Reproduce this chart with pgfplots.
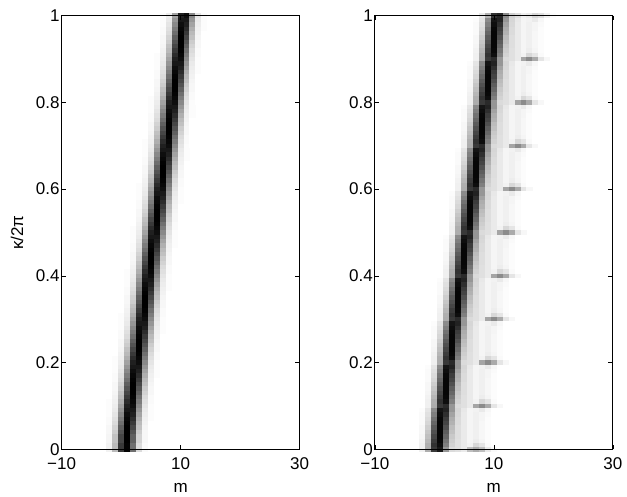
\documentclass[border=0pt]{standalone}
\usepackage{fontspec}
\setmainfont{Liberation Sans}
\usepackage{pgfplots}
\usepackage{pgfplotstable}
\pgfplotsset{compat=1.18}
\pgfdeclareplotmark{cell}{\pgfpathrectangle{\pgfpoint{-3.03pt}{-2.22pt}}{\pgfpoint{6.06pt}{4.44pt}}\pgfusepathqfill}
\pgfplotstableread{
k s c0 c1 c2 c3 c4 c5 c6 c7 c8
0.00 -3 0 5 27 77 98 56 14 2 0
0.01 -3 0 5 27 77 98 56 14 2 0
0.02 -3 0 4 24 72 100 62 17 3 0
0.03 -3 0 4 24 72 100 62 17 3 0
0.04 -3 0 3 20 67 100 67 20 3 0
0.05 -3 0 3 17 62 100 72 24 4 0
0.06 -3 0 2 14 56 98 77 27 5 0
0.07 -3 0 2 12 51 96 82 31 6 1
0.08 -3 0 1 10 46 94 87 36 7 1
0.09 -3 0 1 8 41 90 90 41 8 1
0.10 -2 1 7 36 87 94 46 10 1 0
0.11 -2 1 6 31 82 96 51 12 2 0
0.12 -2 0 5 27 77 98 56 14 2 0
0.13 -2 0 4 24 72 100 62 17 3 0
0.14 -2 0 3 20 67 100 67 20 3 0
0.15 -2 0 3 17 62 100 72 24 4 0
0.16 -2 0 2 14 56 98 77 27 5 0
0.17 -2 0 2 12 51 96 82 31 6 1
0.18 -2 0 1 10 46 94 87 36 7 1
0.19 -2 0 1 8 41 90 90 41 8 1
0.20 -1 1 7 36 87 94 46 10 1 0
0.21 -1 1 6 31 82 96 51 12 2 0
0.22 -1 0 5 27 77 98 56 14 2 0
0.23 -1 0 4 24 72 100 62 17 3 0
0.24 -1 0 3 20 67 100 67 20 3 0
0.25 -1 0 3 17 62 100 72 24 4 0
0.26 -1 0 2 14 56 98 77 27 5 0
0.27 -1 0 2 12 51 96 82 31 6 1
0.28 -1 0 1 10 46 94 87 36 7 1
0.29 -1 0 1 8 41 90 90 41 8 1
0.30 0 1 7 36 87 94 46 10 1 0
0.31 0 1 6 31 82 96 51 12 2 0
0.32 0 0 5 27 77 98 56 14 2 0
0.33 0 0 4 24 72 100 62 17 3 0
0.34 0 0 3 20 67 100 67 20 3 0
0.35 0 0 3 17 62 100 72 24 4 0
0.36 0 0 2 14 56 98 77 27 5 0
0.37 0 0 2 12 51 96 82 31 6 1
0.38 0 0 1 10 46 94 87 36 7 1
0.39 0 0 1 8 41 90 90 41 8 1
0.40 1 1 7 36 87 94 46 10 1 0
0.41 1 1 6 31 82 96 51 12 2 0
0.42 1 0 5 27 77 98 56 14 2 0
0.43 1 0 4 24 72 100 62 17 3 0
0.44 1 0 3 20 67 100 67 20 3 0
0.45 1 0 3 17 62 100 72 24 4 0
0.46 1 0 2 14 56 98 77 27 5 0
0.47 1 0 2 12 51 96 82 31 6 1
0.48 1 0 1 10 46 94 87 36 7 1
0.49 1 0 1 8 41 90 90 41 8 1
0.50 2 1 7 36 87 94 46 10 1 0
0.51 2 1 6 31 82 96 51 12 2 0
0.52 2 0 5 27 77 98 56 14 2 0
0.53 2 0 4 24 72 100 62 17 3 0
0.54 2 0 3 20 67 100 67 20 3 0
0.55 2 0 3 17 62 100 72 24 4 0
0.56 2 0 2 14 56 98 77 27 5 0
0.57 2 0 2 12 51 96 82 31 6 1
0.58 2 0 1 10 46 94 87 36 7 1
0.59 2 0 1 8 41 90 90 41 8 1
0.60 3 1 7 36 87 94 46 10 1 0
0.61 3 1 6 31 82 96 51 12 2 0
0.62 3 0 5 27 77 98 56 14 2 0
0.63 3 0 4 24 72 100 62 17 3 0
0.64 3 0 3 20 67 100 67 20 3 0
0.65 3 0 3 17 62 100 72 24 4 0
0.66 3 0 2 14 56 98 77 27 5 0
0.67 3 0 2 12 51 96 82 31 6 1
0.68 3 0 1 10 46 94 87 36 7 1
0.69 3 0 1 8 41 90 90 41 8 1
0.70 4 1 7 36 87 94 46 10 1 0
0.71 4 1 6 31 82 96 51 12 2 0
0.72 4 0 5 27 77 98 56 14 2 0
0.73 4 0 4 24 72 100 62 17 3 0
0.74 4 0 3 20 67 100 67 20 3 0
0.75 4 0 3 17 62 100 72 24 4 0
0.76 4 0 2 14 56 98 77 27 5 0
0.77 4 0 2 12 51 96 82 31 6 1
0.78 4 0 1 10 46 94 87 36 7 1
0.79 4 0 1 8 41 90 90 41 8 1
0.80 5 1 7 36 87 94 46 10 1 0
0.81 5 1 6 31 82 96 51 12 2 0
0.82 5 0 5 27 77 98 56 14 2 0
0.83 5 0 4 24 72 100 62 17 3 0
0.84 5 0 3 20 67 100 67 20 3 0
0.85 5 0 3 17 62 100 72 24 4 0
0.86 5 0 2 14 56 98 77 27 5 0
0.87 5 0 2 12 51 96 82 31 6 1
0.88 5 0 1 10 46 94 87 36 7 1
0.89 5 0 1 8 41 90 90 41 8 1
0.90 6 1 7 36 87 94 46 10 1 0
0.91 6 1 6 31 82 96 51 12 2 0
0.92 6 0 5 27 77 98 56 14 2 0
0.93 6 0 4 24 72 100 62 17 3 0
0.94 6 0 3 20 67 100 67 20 3 0
0.95 6 0 3 17 62 100 72 24 4 0
0.96 6 0 2 14 56 98 77 27 5 0
0.97 6 0 2 12 51 96 82 31 6 1
0.98 6 0 1 10 46 94 87 36 7 1
0.99 6 0 1 8 41 90 90 41 8 1
1.00 7 1 7 36 87 94 46 10 1 0
}\lefttab
\pgfplotstableread{
k s c0 c1 c2 c3 c4 c5 c6 c7 c8 c9 c10 c11 c12 c13
0.00 -3 0 6 32 77 90 41 14 12 8 25 32 25 8 2
0.01 -3 0 6 31 80 94 50 17 12 8 5 15 10 2 0
0.02 -3 0 5 28 76 96 54 19 12 8 4 7 4 1 0
0.03 -3 0 4 25 72 97 59 21 13 8 4 6 3 1 0
0.04 -3 0 3 22 68 97 63 24 13 8 4 6 3 1 0
0.05 -3 0 3 19 64 97 68 26 13 8 4 6 3 1 0
0.06 -3 0 2 16 59 97 73 30 14 8 4 6 3 1 0
0.07 -3 0 2 14 55 96 76 32 14 8 4 6 4 1 0
0.08 -3 0 2 12 50 94 81 36 15 8 4 6 4 2 0
0.09 -3 0 1 10 45 91 86 41 16 9 4 5 8 3 0
0.10 -2 0 6 32 77 83 41 14 12 8 35 45 33 10 3
0.11 -2 0 6 31 80 94 50 17 12 8 5 15 10 2 0
0.12 -2 0 5 28 76 96 54 19 12 8 4 7 4 1 0
0.13 -2 0 4 25 72 97 59 21 13 8 4 6 3 1 0
0.14 -2 0 3 22 68 97 63 24 13 8 4 6 3 1 0
0.15 -2 0 3 19 64 97 68 26 13 8 4 6 3 1 0
0.16 -2 0 2 16 59 97 73 30 14 8 4 6 3 1 0
0.17 -2 0 2 14 55 96 76 32 14 8 4 6 4 1 0
0.18 -2 0 2 12 50 94 81 36 15 8 4 6 4 2 0
0.19 -2 0 1 10 45 91 86 41 16 9 4 5 8 3 0
0.20 -1 0 6 32 77 83 41 14 12 8 35 45 33 10 3
0.21 -1 0 6 31 80 94 50 17 12 8 5 15 10 2 0
0.22 -1 0 5 28 76 96 54 19 12 8 4 7 4 1 0
0.23 -1 0 4 25 72 97 59 21 13 8 4 6 3 1 0
0.24 -1 0 3 22 68 97 63 24 13 8 4 6 3 1 0
0.25 -1 0 3 19 64 97 68 26 13 8 4 6 3 1 0
0.26 -1 0 2 16 59 97 73 30 14 8 4 6 3 1 0
0.27 -1 0 2 14 55 96 76 32 14 8 4 6 4 1 0
0.28 -1 0 2 12 50 94 81 36 15 8 4 6 4 2 0
0.29 -1 0 1 10 45 91 86 41 16 9 4 5 8 3 0
0.30 0 0 6 32 77 83 41 14 12 8 35 45 33 10 3
0.31 0 0 6 31 80 94 50 17 12 8 5 15 10 2 0
0.32 0 0 5 28 76 96 54 19 12 8 4 7 4 1 0
0.33 0 0 4 25 72 97 59 21 13 8 4 6 3 1 0
0.34 0 0 3 22 68 97 63 24 13 8 4 6 3 1 0
0.35 0 0 3 19 64 97 68 26 13 8 4 6 3 1 0
0.36 0 0 2 16 59 97 73 30 14 8 4 6 3 1 0
0.37 0 0 2 14 55 96 76 32 14 8 4 6 4 1 0
0.38 0 0 2 12 50 94 81 36 15 8 4 6 4 2 0
0.39 0 0 1 10 45 91 86 41 16 9 4 5 8 3 0
0.40 1 0 6 32 77 83 41 14 12 8 35 45 33 10 3
0.41 1 0 6 31 80 94 50 17 12 8 5 15 10 2 0
0.42 1 0 5 28 76 96 54 19 12 8 4 7 4 1 0
0.43 1 0 4 25 72 97 59 21 13 8 4 6 3 1 0
0.44 1 0 3 22 68 97 63 24 13 8 4 6 3 1 0
0.45 1 0 3 19 64 97 68 26 13 8 4 6 3 1 0
0.46 1 0 2 16 59 97 73 30 14 8 4 6 3 1 0
0.47 1 0 2 14 55 96 76 32 14 8 4 6 4 1 0
0.48 1 0 2 12 50 94 81 36 15 8 4 6 4 2 0
0.49 1 0 1 10 45 91 86 41 16 9 4 5 8 3 0
0.50 2 0 6 32 77 83 41 14 12 8 35 45 33 10 3
0.51 2 0 6 31 80 94 50 17 12 8 5 15 10 2 0
0.52 2 0 5 28 76 96 54 19 12 8 4 7 4 1 0
0.53 2 0 4 25 72 97 59 21 13 8 4 6 3 1 0
0.54 2 0 3 22 68 97 63 24 13 8 4 6 3 1 0
0.55 2 0 3 19 64 97 68 26 13 8 4 6 3 1 0
0.56 2 0 2 16 59 97 73 30 14 8 4 6 3 1 0
0.57 2 0 2 14 55 96 76 32 14 8 4 6 4 1 0
0.58 2 0 2 12 50 94 81 36 15 8 4 6 4 2 0
0.59 2 0 1 10 45 91 86 41 16 9 4 5 8 3 0
0.60 3 0 6 32 77 83 41 14 12 8 35 45 33 10 3
0.61 3 0 6 31 80 94 50 17 12 8 5 15 10 2 0
0.62 3 0 5 28 76 96 54 19 12 8 4 7 4 1 0
0.63 3 0 4 25 72 97 59 21 13 8 4 6 3 1 0
0.64 3 0 3 22 68 97 63 24 13 8 4 6 3 1 0
0.65 3 0 3 19 64 97 68 26 13 8 4 6 3 1 0
0.66 3 0 2 16 59 97 73 30 14 8 4 6 3 1 0
0.67 3 0 2 14 55 96 76 32 14 8 4 6 4 1 0
0.68 3 0 2 12 50 94 81 36 15 8 4 6 4 2 0
0.69 3 0 1 10 45 91 86 41 16 9 4 5 8 3 0
0.70 4 0 6 32 77 83 41 14 12 8 35 45 33 10 3
0.71 4 0 6 31 80 94 50 17 12 8 5 15 10 2 0
0.72 4 0 5 28 76 96 54 19 12 8 4 7 4 1 0
0.73 4 0 4 25 72 97 59 21 13 8 4 6 3 1 0
0.74 4 0 3 22 68 97 63 24 13 8 4 6 3 1 0
0.75 4 0 3 19 64 97 68 26 13 8 4 6 3 1 0
0.76 4 0 2 16 59 97 73 30 14 8 4 6 3 1 0
0.77 4 0 2 14 55 96 76 32 14 8 4 6 4 1 0
0.78 4 0 2 12 50 94 81 36 15 8 4 6 4 2 0
0.79 4 0 1 10 45 91 86 41 16 9 4 5 8 3 0
0.80 5 0 6 32 77 83 41 14 12 8 35 45 33 10 3
0.81 5 0 6 31 80 94 50 17 12 8 5 15 10 2 0
0.82 5 0 5 28 76 96 54 19 12 8 4 7 4 1 0
0.83 5 0 4 25 72 97 59 21 13 8 4 6 3 1 0
0.84 5 0 3 22 68 97 63 24 13 8 4 6 3 1 0
0.85 5 0 3 19 64 97 68 26 13 8 4 6 3 1 0
0.86 5 0 2 16 59 97 73 30 14 8 4 6 3 1 0
0.87 5 0 2 14 55 96 76 32 14 8 4 6 4 1 0
0.88 5 0 2 12 50 94 81 36 15 8 4 6 4 2 0
0.89 5 0 1 10 45 91 86 41 16 9 4 5 8 3 0
0.90 6 0 6 32 77 83 41 14 12 8 35 45 33 10 3
0.91 6 0 6 31 80 94 50 17 12 8 5 15 10 2 0
0.92 6 0 5 28 76 96 54 19 12 8 4 7 4 1 0
0.93 6 0 4 25 72 97 59 21 13 8 4 6 3 1 0
0.94 6 0 3 22 68 97 63 24 13 8 4 6 3 1 0
0.95 6 0 3 19 64 97 68 26 13 8 4 6 3 1 0
0.96 6 0 2 16 59 97 73 30 14 8 4 6 3 1 0
0.97 6 0 2 14 55 96 76 32 14 8 4 6 4 1 0
0.98 6 0 2 12 50 94 81 36 15 8 4 6 4 2 0
0.99 6 0 1 10 45 91 86 41 16 9 4 5 8 3 0
1.00 7 0 8 30 80 85 45 18 13 6 8 15 12 5 1
}\righttab
\pgfplotsset{
  datapanel/.style={
    scale only axis, width=238pt, height=433.6pt,
    xmin=-10, xmax=30, ymin=0, ymax=1,
    hide axis,
    colormap={bw}{gray(0cm)=(1); gray(1cm)=(0)},
    point meta min=0, point meta max=100,
    scatter/use mapped color={draw=none,fill=mapped color},
  },
  panel/.style={
    scale only axis, width=238pt, height=433.6pt,
    xmin=-10, xmax=30, ymin=0, ymax=1,
    xtick={-10,10,30}, xticklabels={−10,10,30},
    ytick={0,0.2,0.4,0.6,0.8,1}, yticklabels={0,0.2,0.4,0.6,0.8,1},
    tick align=inside, major tick length=4.5pt,
    every tick/.style={black,line width=0.5pt},
    axis line style={line width=0.9pt},
    tick label style={font=\fontsize{17}{20}\selectfont},
    xticklabel style={yshift=-5pt},
    yticklabel style={xshift=1.5pt},
    label style={font=\fontsize{17}{20}\selectfont},
    xlabel={m},
    xlabel style={at={(axis description cs:0.5,0)},anchor=north,yshift=-31pt},
  }
}
\begin{document}
\begin{tikzpicture}[x=1pt,y=1pt]
\useasboundingbox (-61.6,-47.7) rectangle (565.4,449.3);
\begin{axis}[datapanel, at={(0pt,0pt)}, anchor=south west]
\pgfplotsinvokeforeach{0,...,8}{
  \addplot[scatter, only marks, mark=cell, point meta=\thisrow{c#1}]
    table[x expr=\thisrow{s}+#1, y=k] {\lefttab};
}
\end{axis}
\begin{axis}[datapanel, at={(313.2pt,0pt)}, anchor=south west]
\pgfplotsinvokeforeach{0,...,13}{
  \addplot[scatter, only marks, mark=cell, point meta=\thisrow{c#1}]
    table[x expr=\thisrow{s}+#1, y=k] {\righttab};
}
\end{axis}
\begin{axis}[panel, at={(0pt,0pt)}, anchor=south west, ylabel={κ/2π},
  ylabel style={at={(axis description cs:0,0.5)},anchor=center,yshift=44.6pt}]
\end{axis}
\begin{axis}[panel, at={(313.2pt,0pt)}, anchor=south west]
\end{axis}
\end{tikzpicture}
\end{document}
